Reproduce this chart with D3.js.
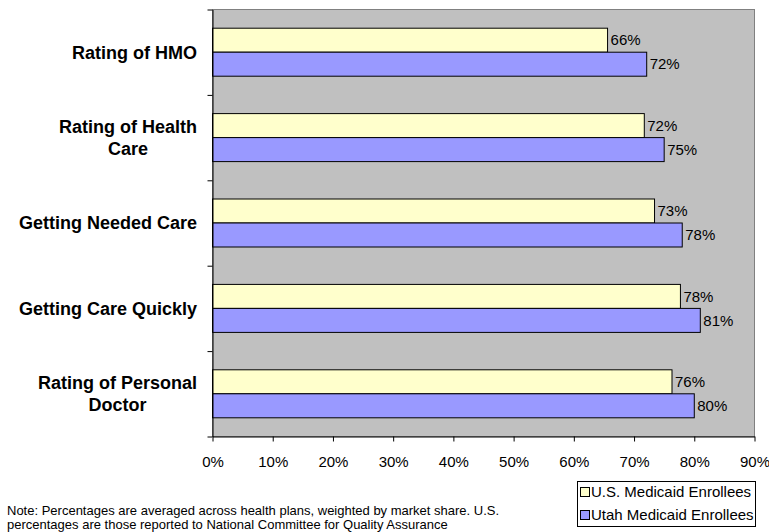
<!DOCTYPE html>
<html>
<head>
<meta charset="utf-8">
<script src="https://cdn.jsdelivr.net/npm/d3@7"></script>
<style>
  body { margin: 0; background: #fff; }
  svg { display: block; font-family: Arial, "Liberation Sans", sans-serif; }
</style>
</head>
<body>
<div id="my_dataviz"><svg></svg></div>
<script>
// data
var categories = ["Rating of HMO", "Rating of Health Care", "Getting Needed Care",
                  "Getting Care Quickly", "Rating of Personal Doctor"];
var categoryLines = [["Rating of HMO"], ["Rating of Health", "Care"], ["Getting Needed Care"],
                     ["Getting Care Quickly"], ["Rating of Personal", "Doctor"]];
var seriesNames = ["U.S. Medicaid Enrollees", "Utah Medicaid Enrollees"];
var usValues = [65.6, 71.7, 73.4, 77.7, 76.3];
var utahValues = [72.1, 75.0, 78.0, 81.0, 80.0];
var xTicks = [0, 10, 20, 30, 40, 50, 60, 70, 80, 90];
var noteLines = ["Note: Percentages are averaged across health plans, weighted by market share. U.S.",
                 "percentages are those reported to National Committee for Quality Assurance"];

var colors = ["#ffffcc", "#9999ff"];
var plot = { left: 212.5, right: 754.5, top: 9.5, bottom: 436.5 };

var svg = d3.select("#my_dataviz").select("svg")
    .attr("width", 769)
    .attr("height", 532);

var xAxis = d3.scaleLinear()
    .domain([0, 90])
    .range([plot.left, plot.right]);

var yAxis = d3.scaleBand()
    .domain(categories)
    .range([plot.top, plot.bottom])
    .paddingInner(0.438)
    .paddingOuter(0.219);

var ySeries = d3.scaleBand()
    .domain([0, 1])
    .range([0, yAxis.bandwidth()]);

// plot area
svg.append("rect")
    .attr("x", plot.left)
    .attr("y", plot.top)
    .attr("width", plot.right - plot.left)
    .attr("height", plot.bottom - plot.top)
    .attr("fill", "#c0c0c0")
    .attr("stroke", "#808080")
    .attr("stroke-width", 1);

var rows = categories.map(function (c, i) {
    return { cat: c, lines: categoryLines[i], values: [usValues[i], utahValues[i]] };
});

var group = svg.selectAll(".cat")
    .data(rows)
    .enter()
    .append("g")
    .attr("class", "cat")
    .attr("transform", function (d) {
        return "translate(0," + yAxis(d.cat) + ")";
    });

group.selectAll("rect")
    .data(function (d) { return d.values; })
    .enter()
    .append("rect")
    .attr("x", xAxis(0))
    .attr("y", function (d, j) { return ySeries(j); })
    .attr("width", function (d) { return xAxis(d) - xAxis(0); })
    .attr("height", ySeries.bandwidth())
    .attr("fill", function (d, j) { return colors[j]; })
    .attr("stroke", "#000")
    .attr("stroke-width", 1);

group.selectAll("text")
    .data(function (d) { return d.values; })
    .enter()
    .append("text")
    .attr("x", function (d) { return xAxis(d) + 3; })
    .attr("y", function (d, j) { return ySeries(j) + ySeries.bandwidth() / 2; })
    .attr("dy", "0.35em")
    .attr("font-size", "15px")
    .attr("fill", "#000")
    .text(function (d) { return Math.round(d) + "%"; });

// left axis: ticks on category boundaries
svg.append("g")
    .attr("transform", "translate(" + plot.left + ",0)")
    .call(d3.axisLeft(d3.scaleLinear().domain([0, 5]).range([plot.top, plot.bottom]))
        .ticks(5).tickSize(5).tickSizeOuter(0).tickFormat(""))
    .call(function (g) { g.selectAll("line,path").attr("stroke", "#000"); });

// bottom axis
var bottom = svg.append("g")
    .attr("transform", "translate(0," + plot.bottom + ")")
    .call(d3.axisBottom(xAxis).tickValues(xTicks).tickSize(5).tickSizeOuter(0).tickPadding(15)
        .tickFormat(function (d) { return d + "%"; }));
bottom.selectAll("line,path").attr("stroke", "#000");
bottom.selectAll("text")
    .attr("font-size", "15px")
    .attr("font-family", "Arial, 'Liberation Sans', sans-serif")
    .attr("fill", "#000");

// category labels, multi-line centred, block right-aligned
var labelRight = 197;
rows.forEach(function (d) {
    var cy = yAxis(d.cat) + yAxis.bandwidth() / 2;
    var lineH = 22;
    var t = svg.append("text")
        .attr("font-size", "18px")
        .attr("font-weight", "bold")
        .attr("text-anchor", "middle")
        .attr("fill", "#000");
    d.lines.forEach(function (line, k) {
        t.append("tspan")
            .attr("x", 0)
            .attr("y", cy + (k - (d.lines.length - 1) / 2) * lineH)
            .attr("dy", "0.35em")
            .text(line);
    });
    var w = t.node().getBBox().width;
    t.attr("transform", "translate(" + (labelRight - w / 2) + ",0)");
});

// note
svg.append("g").selectAll("text")
    .data(noteLines)
    .enter()
    .append("text")
    .attr("x", 7)
    .attr("y", function (d, i) { return 515 + i * 14; })
    .attr("font-size", "13px")
    .attr("fill", "#000")
    .text(function (d) { return d; });

// legend
var legend = svg.append("g");
legend.append("rect")
    .attr("x", 577.5)
    .attr("y", 481.5)
    .attr("width", 178)
    .attr("height", 45)
    .attr("fill", "#fff")
    .attr("stroke", "#000");

var item = legend.selectAll(".item")
    .data(seriesNames)
    .enter()
    .append("g")
    .attr("class", "item")
    .attr("transform", function (d, i) {
        return "translate(0," + (492 + i * 23) + ")";
    });
item.append("rect")
    .attr("x", 580.5)
    .attr("y", -4.5)
    .attr("width", 9)
    .attr("height", 9)
    .attr("fill", function (d, i) { return colors[i]; })
    .attr("stroke", "#000");
item.append("text")
    .attr("x", 591)
    .attr("dy", "0.35em")
    .attr("font-size", "15px")
    .attr("fill", "#000")
    .text(function (d) { return d; });
</script>
</body>
</html>
